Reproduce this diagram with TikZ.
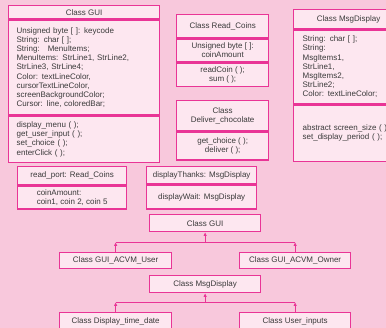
\documentclass[tikz,border=0pt]{standalone}
\usepackage{fontspec}
\setmainfont{Liberation Sans}
\usetikzlibrary{arrows.meta, positioning}

\definecolor{bgpink}{HTML}{F8C8DC}
\definecolor{boxpink}{HTML}{FDE7F0}
\definecolor{linepink}{HTML}{E93596}
\definecolor{txtgray}{HTML}{3A3A3A}

\begin{document}
\begin{tikzpicture}[x=1pt, y=-1pt,
    every node/.style={font=\fontsize{8}{9.2}\selectfont, text=txtgray},
    umlbox/.style={draw=linepink, fill=boxpink, line width=1.3pt, inner sep=0pt, anchor=north west, align=center},
    leftbox/.style={umlbox, align=left, inner xsep=8pt},
    link/.style={draw=linepink, line width=1.3pt},
    tip/.style={link, -{Latex[length=3.5pt, width=3.5pt]}}]

    % Background
    \fill[bgpink] (0,0) rectangle (386,328);
    \clip (0,0) rectangle (386,328);

    % Class GUI
    \node[umlbox, minimum width=151, minimum height=13] (guiH) at (8,5) {Class GUI};
    \node[leftbox, text width=135, minimum height=95] (guiA) at (guiH.south west)
        {Unsigned byte [ ]: keycode\\String: char [ ];\\String:\ \ \ MenuItems;\\MenuItems: StrLine1, StrLine2,\\StrLine3, StrLine4;\\Color: textLineColor,\\cursorTextLineColor,\\screenBackgroundColor;\\Cursor: line, coloredBar;};
    \node[leftbox, text width=135, minimum height=46] (guiM) at (guiA.south west)
        {display\_menu ( );\\get\_user\_input ( );\\set\_choice ( );\\enterClick ( );};

    % Class Read_Coins
    \node[umlbox, minimum width=92, minimum height=23] (rcH) at (176,14) {Class Read\_Coins};
    \node[umlbox, minimum width=92, minimum height=23] (rcA) at (rcH.south west) {Unsigned byte [ ]:\\coinAmount};
    \node[umlbox, minimum width=92, minimum height=23] (rcM) at (rcA.south west) {readCoin ( );\\sum ( );};

    % Class Deliver_chocolate
    \node[umlbox, minimum width=92, minimum height=30] (dcH) at (176,100) {Class\\Deliver\_chocolate};
    \node[umlbox, minimum width=92, minimum height=28] (dcM) at (dcH.south west) {get\_choice ( );\\deliver ( );};

    % Class MsgDisplay
    \node[umlbox, minimum width=110, minimum height=19] (mdH) at (293,9) {Class MsgDisplay};
    \node[leftbox, inner xsep=9pt, text width=92, minimum height=74] (mdA) at (mdH.south west)
        {String: char [ ];\\String:\\MsgItems1,\\StrLine1,\\MsgItems2,\\StrLine2;\\Color: textLineColor;};
    \node[leftbox, inner xsep=9pt, text width=92, minimum height=56] (mdM) at (mdA.south west)
        {abstract screen\_size ( );\\set\_display\_period ( );\\[6pt]};

    % Objects
    \node[umlbox, minimum width=109, minimum height=18] (rpH) at (17,166) {read\_port: Read\_Coins};
    \node[umlbox, align=left, minimum width=109, minimum height=23] (rpA) at (rpH.south west) {coinAmount:\\coin1, coin 2, coin 5};
    \node[umlbox, minimum width=110, minimum height=17] (dtH) at (146,166) {displayThanks: MsgDisplay};
    \node[umlbox, minimum width=110, minimum height=24] (dtA) at (dtH.south west) {displayWait: MsgDisplay};

    % Hierarchy 1
    \node[umlbox, minimum width=111, minimum height=17] (guiB) at (149,214) {Class GUI};
    \node[umlbox, minimum width=112, minimum height=16] (user) at (59,252) {Class GUI\_ACVM\_User};
    \node[umlbox, minimum width=111, minimum height=16] (owner) at (239,252) {Class GUI\_ACVM\_Owner};
    \coordinate[below=10pt of guiB.south] (barA);
    \draw[tip] (barA) -- (guiB.south);
    \draw[link] (user.north |- barA) -- (owner.north |- barA);
    \draw[tip] (user.north) -- (user.north |- barA);
    \draw[tip] (owner.north) -- (owner.north |- barA);

    % Hierarchy 2
    \node[umlbox, minimum width=111, minimum height=17] (msgB) at (149,275) {Class MsgDisplay};
    \node[umlbox, minimum width=112, minimum height=18] (dtd) at (59,312) {Class Display\_time\_date};
    \node[umlbox, minimum width=111, minimum height=18] (uin) at (239,312) {Class User\_inputs};
    \coordinate[below=9pt of msgB.south] (barB);
    \draw[tip] (barB) -- (msgB.south);
    \draw[link] (dtd.north |- barB) -- (uin.north |- barB);
    \draw[tip] (dtd.north) -- (dtd.north |- barB);
    \draw[tip] (uin.north) -- (uin.north |- barB);

\end{tikzpicture}
\end{document}
